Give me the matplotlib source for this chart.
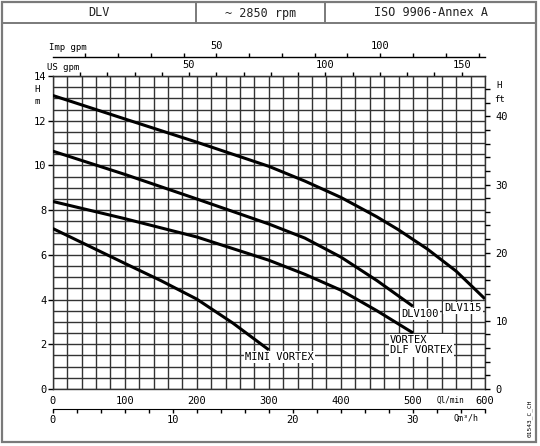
import numpy as np
import matplotlib
matplotlib.use('Agg')
import matplotlib.pyplot as plt
from matplotlib.lines import Line2D
from matplotlib.patches import Rectangle

plt.rcParams['font.family'] = ['DejaVu Sans Mono']

# pump curves: flow Q (l/min) and head H (m)
q_dlv115 = [0, 100, 200, 300, 350, 400, 450, 480, 520, 560, 600]
h_dlv115 = [13.13, 12.08, 11.04, 9.96, 9.3, 8.57, 7.7, 7.12, 6.26, 5.27, 4.03]

q_dlv100 = [0, 100, 200, 300, 350, 400, 450, 500]
h_dlv100 = [10.64, 9.6, 8.5, 7.38, 6.75, 5.9, 4.85, 3.7]

q_vortex = [0, 100, 200, 300, 350, 400, 450, 500]
h_vortex = [8.39, 7.62, 6.8, 5.76, 5.13, 4.42, 3.5, 2.51]

q_mini = [0, 50, 100, 150, 200, 250, 300]
h_mini = [7.18, 6.4, 5.62, 4.85, 4.02, 2.95, 1.75]

header = ['DLV', '~ 2850 rpm', 'ISO 9906-Annex A']

W, H = 540, 446


def fx(px):
    return px / W


def fy(py):
    return 1 - py / H


fig = plt.figure(figsize=(5.4, 4.46), dpi=100)

# main grid area
left, right, top, bottom = 52.7, 485, 76, 389
ax = fig.add_axes([fx(left), fy(bottom), (right - left) / W, (bottom - top) / H])
ax.set_xlim(0, 600)
ax.set_ylim(0, 14)
ax.set_xticks(np.arange(0, 601, 100))
ax.set_xticks(np.arange(0, 601, 20), minor=True)
ax.set_yticks(np.arange(0, 15, 2))
ax.set_yticks(np.arange(0, 14.01, 0.5), minor=True)
ax.grid(which='both', color='#333333', lw=1.0)
ax.set_axisbelow(True)
ax.tick_params(axis='x', which='both', length=0, pad=5, labelsize=7.5)
ax.tick_params(axis='y', which='major', length=3.5, width=1, pad=1, labelsize=7.5)
ax.tick_params(axis='y', which='minor', length=0)
for s in ax.spines.values():
    s.set_linewidth(1.0)
    s.set_color('#333333')

for q, h in [(q_dlv115, h_dlv115), (q_dlv100, h_dlv100),
             (q_vortex, h_vortex), (q_mini, h_mini)]:
    ax.plot(q, h, color='black', lw=2.2, solid_capstyle='butt', zorder=3)

box = dict(facecolor='white', edgecolor='none', pad=1)
ax.text(510, 3.35, 'DLV100', fontsize=7.5, ha='center', va='center', bbox=box, zorder=4)
ax.text(569, 3.62, 'DLV115', fontsize=7.5, ha='center', va='center', bbox=box, zorder=4)
ax.text(468, 1.96, 'VORTEX\nDLF VORTEX', fontsize=7.5, ha='left', va='center',
        linespacing=1.0, bbox=box, zorder=4)
ax.text(267, 1.43, 'MINI VORTEX', fontsize=7.5, ha='left', va='center', bbox=box, zorder=4)

# right axis in feet
ax2 = ax.twinx()
ax2.set_ylim(0, 14 * 3.2808)
ax2.set_yticks(np.arange(0, 41, 10))
ax2.set_yticks(np.arange(0, 45, 2), minor=True)
ax2.tick_params(which='both', length=3.5, width=1, pad=4, labelsize=7.5)
for s in ax2.spines.values():
    s.set_visible(False)

# top scales
us = ax.secondary_xaxis('top', functions=(lambda q: q / 3.785, lambda g: g * 3.785))
us.set_xticks([50, 100, 150])
us.set_xticks(np.arange(10, 160, 10), minor=True)
us.tick_params(which='both', length=3, width=1, pad=1, labelsize=7.5)

imp = ax.secondary_xaxis(1 + (top - 57) / (bottom - top),
                         functions=(lambda q: q / 4.546, lambda g: g * 4.546))
imp.set_xticks([50, 100])
imp.set_xticks(np.arange(10, 132, 10), minor=True)
imp.tick_params(which='both', length=3, width=1, pad=1, labelsize=7.5)
imp.spines['top'].set_linewidth(1.0)

# bottom m3/h scale
m3 = ax.secondary_xaxis(-(409 - bottom) / (bottom - top),
                        functions=(lambda q: q * 0.06, lambda m: m / 0.06))
m3.set_xticks([0, 10, 20, 30])
m3.set_xticks(np.arange(0, 37, 2), minor=True)
m3.tick_params(which='both', length=3, width=1, pad=1.5, labelsize=7.5)

# unit labels
fig.text(fx(49), fy(48), 'Imp gpm', fontsize=6.5, va='center')
fig.text(fx(47), fy(67), 'US gpm', fontsize=6.5, va='center')
fig.text(fx(37), fy(89), 'H', fontsize=6.5, ha='center', va='center')
fig.text(fx(37), fy(101), 'm', fontsize=6.5, ha='center', va='center')
fig.text(fx(499), fy(85), 'H', fontsize=6.5, ha='center', va='center')
fig.text(fx(500), fy(99), 'ft', fontsize=6.5, ha='center', va='center')
fig.text(fx(437), fy(400), 'Ql/min', fontsize=5.5, va='center')
fig.text(fx(453), fy(418), 'Qm³/h', fontsize=6, va='center')
fig.text(fx(530), fy(418), '01543_C_CH', fontsize=4.5, rotation=90, ha='center', va='center')

# frame and header
frame = '#7a7a7a'
fig.add_artist(Rectangle((fx(2), fy(442)), (536 - 2) / W, (442 - 2) / H,
                         transform=fig.transFigure, fill=False, ec=frame, lw=1.6))
fig.add_artist(Line2D([fx(2), fx(536)], [fy(23), fy(23)], transform=fig.transFigure,
                      color=frame, lw=1.4))
for xs in (196, 325):
    fig.add_artist(Line2D([fx(xs), fx(xs)], [fy(2), fy(23)], transform=fig.transFigure,
                          color=frame, lw=1.4))
for xc, txt in zip((99, 261, 431), header):
    fig.text(fx(xc), fy(13), txt, fontsize=8.5, ha='center', va='center', color='#222222')

fig.savefig('out.png', dpi=100)
